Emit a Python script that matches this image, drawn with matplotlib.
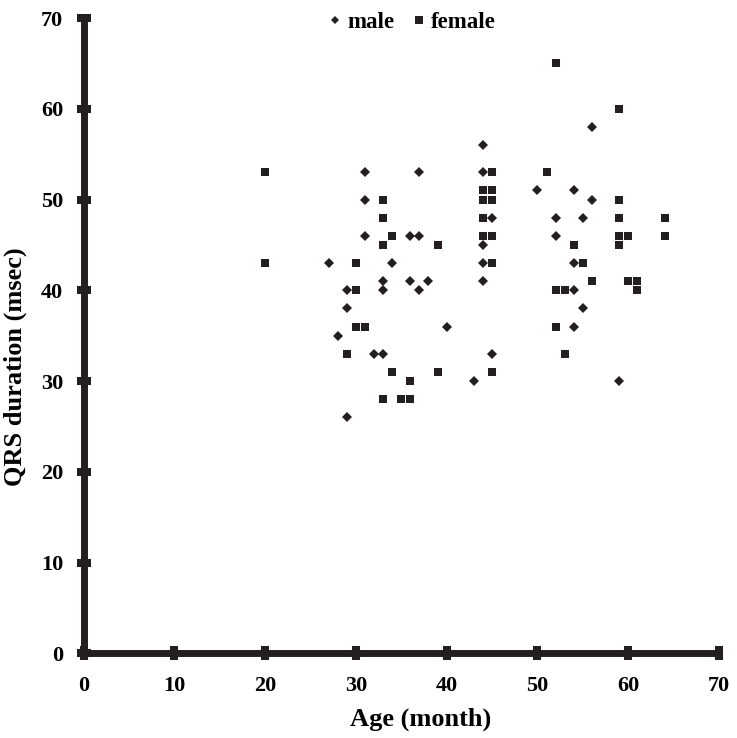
import matplotlib
matplotlib.use('Agg')
import matplotlib.pyplot as plt

plt.rcParams['font.family'] = ['Liberation Serif', 'DejaVu Serif']
plt.rcParams['font.weight'] = 'bold'

# male: age (month), QRS duration (msec)
male_age = [31, 37, 31, 31, 36, 37, 27, 34, 33, 36, 38, 29, 33, 37, 29, 40, 28, 32, 33, 29,
            56, 44, 44, 50, 54, 56, 45, 52, 55, 52, 44, 44, 54, 44, 54, 55, 54, 45, 43, 59]
male_qrs = [53, 53, 50, 46, 46, 46, 43, 43, 41, 41, 41, 40, 40, 40, 38, 36, 35, 33, 33, 26,
            58, 56, 53, 51, 51, 50, 48, 48, 48, 46, 45, 43, 43, 41, 40, 38, 36, 33, 30, 30]

# female
female_age = [20, 33, 33, 34, 33, 39, 20, 30, 30, 30, 31, 29, 34, 39, 36, 33, 35, 36,
              52, 59, 45, 51, 44, 45, 44, 45, 59, 44, 59, 64, 44, 45, 59, 60, 59, 64, 54,
              45, 55, 56, 60, 61, 61, 52, 53, 52, 53, 45]
female_qrs = [53, 50, 48, 46, 45, 45, 43, 43, 40, 36, 36, 33, 31, 31, 30, 28, 28, 28,
              65, 60, 53, 53, 51, 51, 50, 50, 50, 48, 48, 48, 46, 46, 46, 46, 45, 46, 45,
              43, 43, 41, 41, 41, 40, 40, 40, 36, 33, 31]

ticks = [0, 10, 20, 30, 40, 50, 60, 70]
ink = '#231f20'

fig = plt.figure(figsize=(7.37, 7.38), dpi=100)
ax = fig.add_axes([0.1133, 0.1148, 0.8623, 0.8608])

ax.plot(male_age, male_qrs, linestyle='none', marker='D', markersize=4.6,
        color=ink, markeredgewidth=0, label='male')
ax.plot(female_age, female_qrs, linestyle='none', marker='s', markersize=6.4,
        color=ink, markeredgewidth=0, label='female')

ax.set_xlim(0, 70)
ax.set_ylim(0, 70)
ax.set_xticks(ticks)
ax.set_yticks(ticks)

for side in ['top', 'right']:
    ax.spines[side].set_visible(False)
for side in ['left', 'bottom']:
    ax.spines[side].set_linewidth(5)
    ax.spines[side].set_color(ink)
    ax.spines[side].set_capstyle('butt')

ax.tick_params(direction='inout', length=10, width=5.8, color=ink, labelsize=16)
ax.tick_params(axis='x', pad=11.5)
ax.tick_params(axis='y', pad=9.5)
for t in ax.xaxis.get_major_ticks() + ax.yaxis.get_major_ticks():
    t.tick1line.set_clip_on(False)

ax.set_xlabel('Age (month)', fontsize=19, fontweight='bold', labelpad=8.5)
ax.set_ylabel('QRS duration (msec)', fontsize=19, fontweight='bold', labelpad=10)
# axis titles sit a little off the plot centre in the original
ax.xaxis.label.set_x(0.531)
ax.yaxis.label.set_y(0.451)

ax.legend(loc='center', bbox_to_anchor=(0.518, 0.9937), ncol=2, frameon=False,
          fontsize=16.5, handlelength=0.5, handletextpad=0.28, columnspacing=0.8,
          markerscale=0.9, borderpad=0, borderaxespad=0)

fig.savefig('out.png', dpi=100)
